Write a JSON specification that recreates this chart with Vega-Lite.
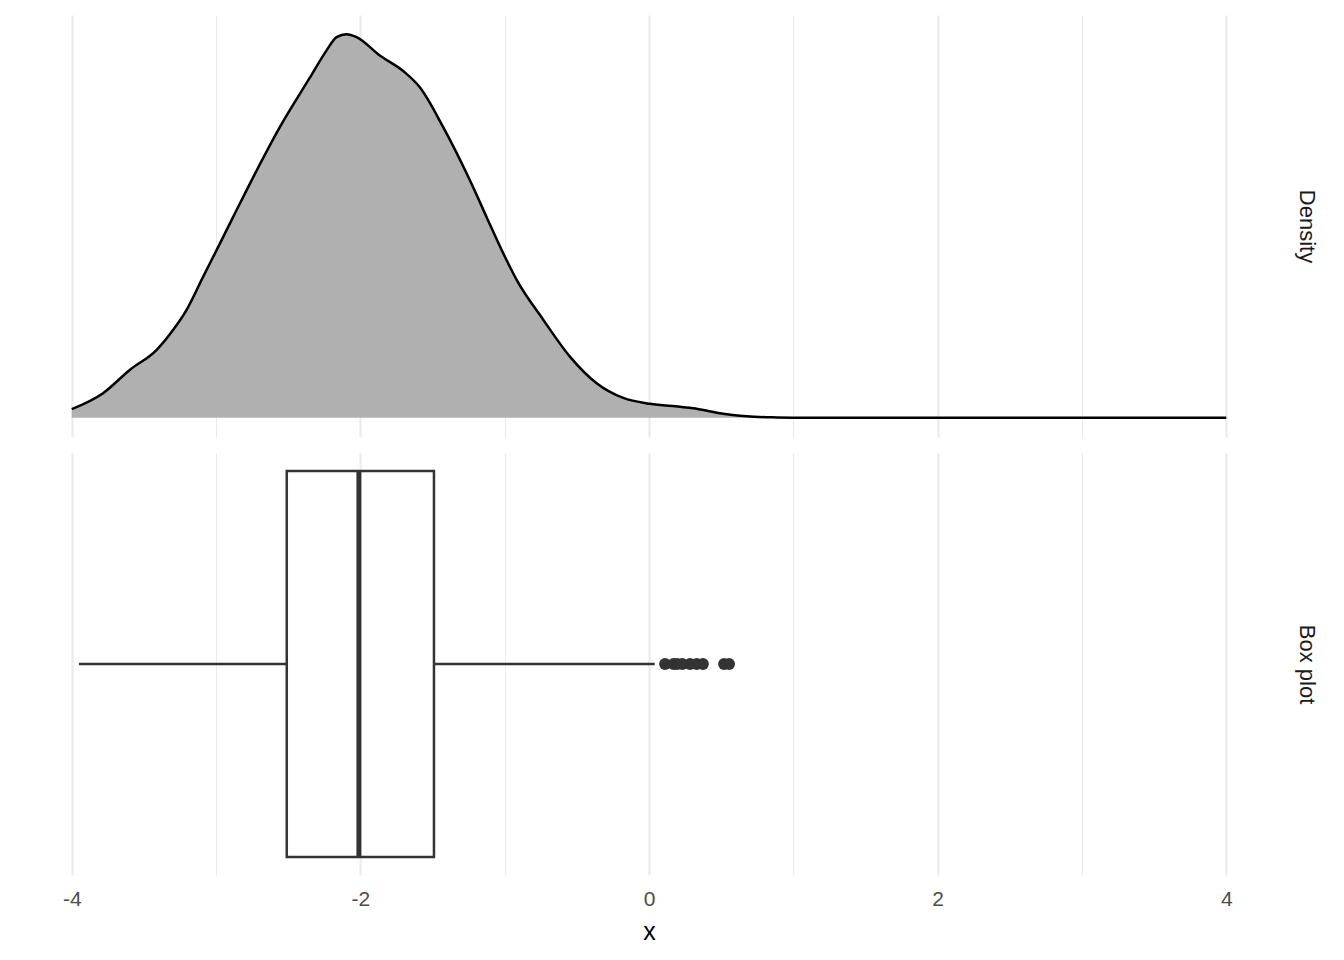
{
  "$schema": "https://vega.github.io/schema/vega-lite/v6.json",
  "background": "white",
  "padding": {"left": 14, "top": 15, "right": 10, "bottom": 0},
  "spacing": 16,
  "config": {
    "view": {"stroke": null},
    "font": "Liberation Sans",
    "axis": {"gridColor": "#EBEBEB"}
  },
  "vconcat": [
    {
      "width": 1270,
      "height": 422,
      "data": {"values": [
        {"x": -4.0, "density": 0.0118},
        {"x": -3.783, "density": 0.0334},
        {"x": -3.598, "density": 0.0649},
        {"x": -3.413, "density": 0.0919},
        {"x": -3.298, "density": 0.119},
        {"x": -3.205, "density": 0.146},
        {"x": -3.09, "density": 0.191},
        {"x": -2.997, "density": 0.227},
        {"x": -2.882, "density": 0.272},
        {"x": -2.743, "density": 0.326},
        {"x": -2.558, "density": 0.394},
        {"x": -2.35, "density": 0.461},
        {"x": -2.234, "density": 0.498},
        {"x": -2.165, "density": 0.516},
        {"x": -2.096, "density": 0.52},
        {"x": -2.026, "density": 0.516},
        {"x": -1.865, "density": 0.491},
        {"x": -1.703, "density": 0.47},
        {"x": -1.588, "density": 0.448},
        {"x": -1.426, "density": 0.394},
        {"x": -1.241, "density": 0.322},
        {"x": -1.125, "density": 0.272},
        {"x": -1.01, "density": 0.223},
        {"x": -0.917, "density": 0.187},
        {"x": -0.733, "density": 0.133},
        {"x": -0.548, "density": 0.083},
        {"x": -0.363, "density": 0.047},
        {"x": -0.178, "density": 0.027},
        {"x": 0.007, "density": 0.019},
        {"x": 0.215, "density": 0.015},
        {"x": 0.307, "density": 0.013},
        {"x": 0.469, "density": 0.007},
        {"x": 0.677, "density": 0.002},
        {"x": 0.885, "density": 0.0005},
        {"x": 1.1, "density": 0.0},
        {"x": 2.0, "density": 0.0},
        {"x": 3.0, "density": 0.0},
        {"x": 4.0, "density": 0.0}
      ]},
      "mark": {
        "type": "area",
        "interpolate": "monotone",
        "fill": "#B0B0B0",
        "opacity": 1,
        "fillOpacity": 1,
        "line": {"color": "black", "strokeWidth": 2.5, "opacity": 1}
      },
      "encoding": {
        "x": {
          "field": "x", "type": "quantitative",
          "scale": {"domain": [-4.4, 4.4], "nice": false, "zero": false},
          "axis": {
            "values": [-4, -3, -2, -1, 0, 1, 2, 3, 4],
            "labels": false, "ticks": false, "domain": false, "title": null,
            "grid": true,
            "gridWidth": {"condition": {"test": "datum.value % 2 === 0", "value": 2.2}, "value": 1.1}
          }
        },
        "y": {
          "field": "density", "type": "quantitative", "stack": null,
          "scale": {"domain": [-0.026, 0.546], "nice": false, "zero": false},
          "axis": {
            "orient": "right", "title": "Density", "labels": false, "ticks": false,
            "domain": false, "grid": false, "titleAngle": 90, "titleFontSize": 22,
            "titleFontWeight": "normal", "titleColor": "#1A1A1A", "titlePadding": 10
          }
        },
        "y2": {"datum": 0}
      }
    },
    {
      "width": 1270,
      "height": 422,
      "encoding": {
        "x": {
          "type": "quantitative",
          "scale": {"domain": [-4.4, 4.4], "nice": false, "zero": false},
          "axis": {
            "values": [-4, -3, -2, -1, 0, 1, 2, 3, 4],
            "labelExpr": "datum.value % 2 === 0 ? toString(datum.value) : ''",
            "labelOverlap": false, "labelFlush": false, "labelBound": false,
            "ticks": false, "domain": false, "title": "x",
            "grid": true,
            "gridWidth": {"condition": {"test": "datum.value % 2 === 0", "value": 2.2}, "value": 1.1},
            "labelFontSize": 21, "labelColor": "#4D4D4D", "labelPadding": 13,
            "titleFontSize": 25, "titleFontWeight": "normal", "titleColor": "#000000", "titlePadding": 10
          }
        },
        "y": {
          "field": "panel", "type": "nominal",
          "scale": {"paddingInner": 0, "paddingOuter": 0.0466},
          "axis": {
            "orient": "right", "title": "Box plot", "labels": false, "ticks": false,
            "domain": false, "grid": false, "titleAngle": 90, "titleFontSize": 22,
            "titleFontWeight": "normal", "titleColor": "#1A1A1A", "titlePadding": 10
          }
        }
      },
      "layer": [
        {
          "data": {"values": [
            {"panel": "Box plot", "lower": -3.95, "q1": -2.51, "median": -2.01, "q3": -1.49, "upper": 0.04}
          ]},
          "layer": [
            {
              "mark": {"type": "rule", "color": "#333333", "strokeWidth": 2.5},
              "encoding": {
                "x": {"field": "lower", "type": "quantitative"},
                "x2": {"field": "upper"}
              }
            },
            {
              "mark": {"type": "bar", "fill": "white", "stroke": "#333333", "strokeWidth": 2.5},
              "encoding": {
                "x": {"field": "q1", "type": "quantitative"},
                "x2": {"field": "q3"}
              }
            },
            {
              "mark": {"type": "tick", "color": "#333333", "thickness": 5, "size": 386, "opacity": 1},
              "encoding": {
                "x": {"field": "median", "type": "quantitative"}
              }
            }
          ]
        },
        {
          "data": {"values": [
            {"panel": "Box plot", "outlier": 0.111},
            {"panel": "Box plot", "outlier": 0.17},
            {"panel": "Box plot", "outlier": 0.194},
            {"panel": "Box plot", "outlier": 0.23},
            {"panel": "Box plot", "outlier": 0.284},
            {"panel": "Box plot", "outlier": 0.33},
            {"panel": "Box plot", "outlier": 0.374},
            {"panel": "Box plot", "outlier": 0.52},
            {"panel": "Box plot", "outlier": 0.555}
          ]},
          "mark": {"type": "point", "filled": true, "color": "#333333", "opacity": 1, "size": 140},
          "encoding": {
            "x": {"field": "outlier", "type": "quantitative"}
          }
        }
      ]
    }
  ]
}
